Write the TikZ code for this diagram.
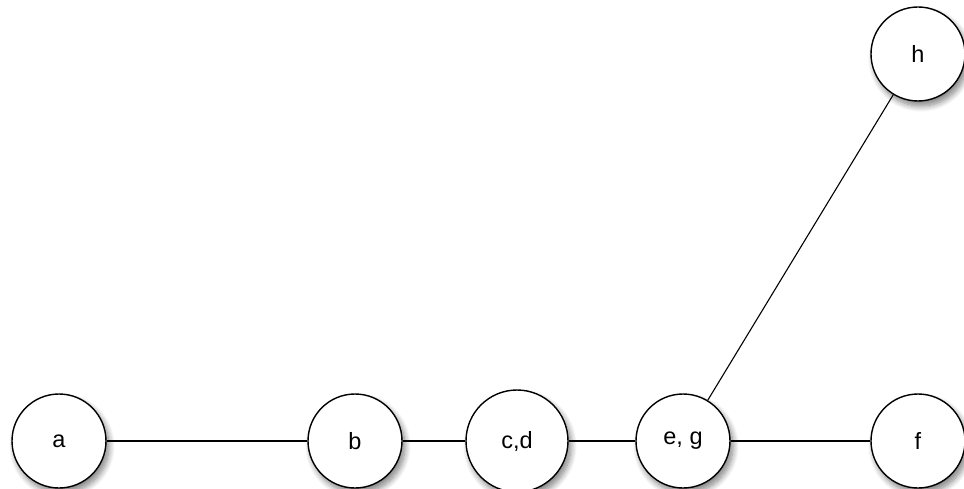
\documentclass[tikz,border=0pt]{standalone}
\usepackage{fontspec}
\setmainfont{Liberation Sans}
\usetikzlibrary{shadows.blur}
\begin{document}
\begin{tikzpicture}[x=1pt,y=-1pt,
  vtx/.style={circle, draw=black, line width=1.4pt, fill=white, minimum size=94pt, inner sep=0pt,
    font=\fontsize{23.5}{27}\selectfont,
    blur shadow={shadow xshift=3pt, shadow yshift=-5pt, shadow blur steps=10, shadow blur radius=6pt, shadow opacity=50}},
  edge/.style={draw=black, line width=1.1pt}]
\useasboundingbox (0,0) rectangle (964,489);
\node[vtx] (a) at (59,441) {a};
\node[vtx] (b) at (355,441) {b};
\node[vtx, minimum size=102pt] (cd) at (517,441) {c,d};
\node[vtx] (eg) at (683,441) {e, g};
\node[vtx] (f) at (918,441) {f};
\node[vtx] (h) at (918,54) {h};
\draw[edge] (a) -- (b);
\draw[edge] (b) -- (cd);
\draw[edge] (cd) -- (eg);
\draw[edge] (eg) -- (f);
\draw[edge] (eg) -- (h);
\end{tikzpicture}
\end{document}
